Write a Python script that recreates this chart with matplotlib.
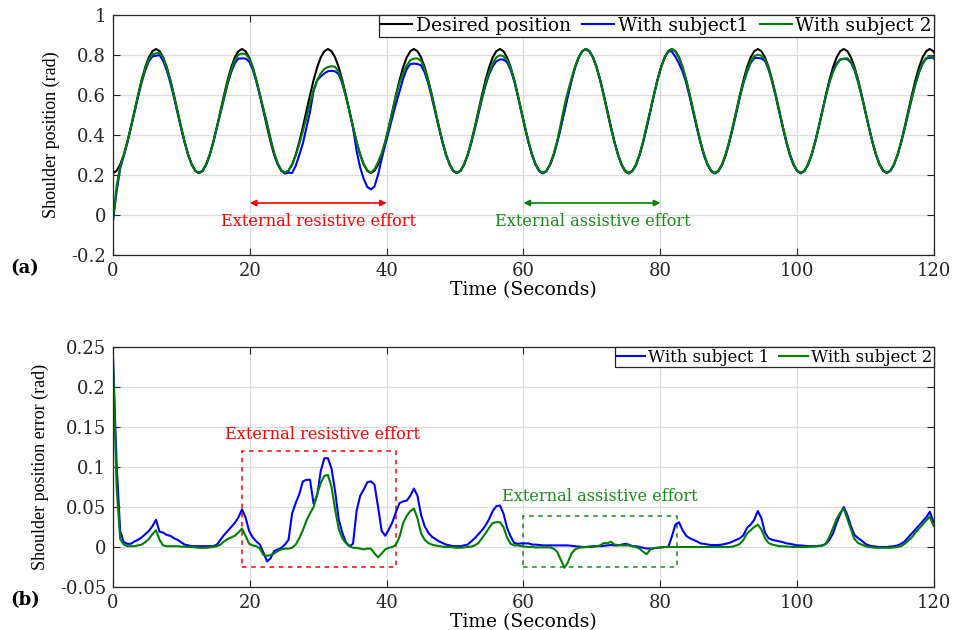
import numpy as np
import matplotlib
matplotlib.use("Agg")
import matplotlib.pyplot as plt
from matplotlib.patches import Rectangle

# Sampling interval of the recorded signals (s)
SAMPLE_DT = 0.5236

# Desired shoulder trajectory (rad)
desired_position = [
    0.210, 0.221, 0.252, 0.301, 0.365, 0.440, 0.520, 0.600, 0.675, 0.739, 0.788, 0.819,
    0.830, 0.819, 0.788, 0.739, 0.675, 0.600, 0.520, 0.440, 0.365, 0.301, 0.252, 0.221,
    0.210, 0.221, 0.252, 0.301, 0.365, 0.440, 0.520, 0.600, 0.675, 0.739, 0.788, 0.819,
    0.830, 0.819, 0.788, 0.739, 0.675, 0.600, 0.520, 0.440, 0.365, 0.301, 0.252, 0.221,
    0.210, 0.221, 0.252, 0.301, 0.365, 0.440, 0.520, 0.600, 0.675, 0.739, 0.788, 0.819,
    0.830, 0.819, 0.788, 0.739, 0.675, 0.600, 0.520, 0.440, 0.365, 0.301, 0.252, 0.221,
    0.210, 0.221, 0.252, 0.301, 0.365, 0.440, 0.520, 0.600, 0.675, 0.739, 0.788, 0.819,
    0.830, 0.819, 0.788, 0.739, 0.675, 0.600, 0.520, 0.440, 0.365, 0.301, 0.252, 0.221,
    0.210, 0.221, 0.252, 0.301, 0.365, 0.440, 0.520, 0.600, 0.675, 0.739, 0.788, 0.819,
    0.830, 0.819, 0.788, 0.739, 0.675, 0.600, 0.520, 0.440, 0.365, 0.301, 0.252, 0.221,
    0.210, 0.221, 0.252, 0.301, 0.365, 0.440, 0.520, 0.600, 0.675, 0.739, 0.788, 0.819,
    0.830, 0.819, 0.788, 0.739, 0.675, 0.600, 0.520, 0.440, 0.365, 0.301, 0.252, 0.221,
    0.210, 0.221, 0.252, 0.301, 0.365, 0.440, 0.520, 0.600, 0.675, 0.739, 0.788, 0.819,
    0.830, 0.819, 0.788, 0.739, 0.675, 0.600, 0.520, 0.440, 0.365, 0.301, 0.252, 0.221,
    0.210, 0.221, 0.252, 0.301, 0.365, 0.440, 0.520, 0.600, 0.675, 0.739, 0.788, 0.819,
    0.830, 0.819, 0.788, 0.739, 0.675, 0.600, 0.520, 0.440, 0.365, 0.301, 0.252, 0.221,
    0.210, 0.221, 0.252, 0.301, 0.365, 0.440, 0.520, 0.600, 0.675, 0.739, 0.788, 0.819,
    0.830, 0.819, 0.788, 0.739, 0.675, 0.600, 0.520, 0.440, 0.365, 0.301, 0.252, 0.221,
    0.210, 0.221, 0.252, 0.301, 0.365, 0.440, 0.520, 0.600, 0.675, 0.739, 0.788, 0.819,
    0.830, 0.819, 0.788,
]

# Tracking error, desired minus measured (rad)
error_subject1 = [
    0.237, 0.105, 0.020, 0.006, 0.004, 0.004, 0.007, 0.009, 0.012, 0.016, 0.020, 0.026,
    0.034, 0.019, 0.018, 0.015, 0.014, 0.011, 0.009, 0.006, 0.003, 0.002, 0.001, 0.001,
    0.001, 0.001, 0.001, 0.001, 0.001, 0.003, 0.009, 0.015, 0.020, 0.025, 0.030, 0.037,
    0.047, 0.037, 0.020, 0.012, 0.007, 0.003, -0.007, -0.018, -0.014, -0.005, -0.003, -0.001,
    0.003, 0.009, 0.042, 0.055, 0.066, 0.082, 0.084, 0.084, 0.054, 0.065, 0.095, 0.111,
    0.111, 0.098, 0.070, 0.035, 0.018, 0.006, 0.001, 0.004, 0.045, 0.064, 0.072, 0.081,
    0.082, 0.078, 0.050, 0.020, 0.014, 0.022, 0.031, 0.044, 0.055, 0.057, 0.058, 0.064,
    0.073, 0.064, 0.040, 0.026, 0.018, 0.013, 0.010, 0.007, 0.005, 0.003, 0.002, 0.001,
    0.001, 0.001, 0.002, 0.003, 0.007, 0.011, 0.016, 0.021, 0.027, 0.035, 0.045, 0.051,
    0.052, 0.042, 0.024, 0.013, 0.005, 0.004, 0.0045, 0.0045, 0.0045, 0.003, 0.003, 0.0025,
    0.002, 0.002, 0.002, 0.002, 0.002, 0.002, 0.002, 0.002, 0.0015, 0.001, 0.0005, 0.0,
    0.0, 0.0005, 0.001, 0.001, 0.001, 0.0015, 0.002, 0.0025, 0.002, 0.002, 0.003, 0.004,
    0.003, 0.001, 0.001, 0.0, -0.001, -0.002, -0.002, -0.0015, -0.001, -0.0005, 0.0, 0.0,
    0.013, 0.028, 0.031, 0.021, 0.014, 0.011, 0.009, 0.007, 0.0045, 0.004, 0.003, 0.0025,
    0.0025, 0.0025, 0.003, 0.004, 0.005, 0.007, 0.009, 0.011, 0.015, 0.024, 0.028, 0.034,
    0.045, 0.036, 0.018, 0.011, 0.009, 0.008, 0.007, 0.006, 0.0045, 0.004, 0.003, 0.002,
    0.002, 0.0015, 0.001, 0.001, 0.001, 0.0015, 0.002, 0.004, 0.009, 0.017, 0.030, 0.041,
    0.050, 0.040, 0.026, 0.015, 0.011, 0.008, 0.004, 0.002, 0.001, 0.0005, 0.0, 0.0,
    0.0, 0.0005, 0.001, 0.002, 0.004, 0.007, 0.012, 0.017, 0.022, 0.027, 0.032, 0.037,
    0.044, 0.032, 0.026,
]

error_subject2 = [
    0.237, 0.075, 0.010, 0.003, 0.001, 0.001, 0.001, 0.002, 0.003, 0.006, 0.010, 0.016,
    0.021, 0.009, 0.002, 0.001, 0.001, 0.001, 0.001, 0.0005, 0.0005, 0.0, 0.0, -0.0005,
    -0.001, -0.001, -0.001, -0.0005, 0.0, 0.001, 0.003, 0.007, 0.010, 0.012, 0.014, 0.018,
    0.023, 0.014, 0.004, 0.002, 0.001, -0.002, -0.010, -0.011, -0.010, -0.008, -0.005, -0.003,
    -0.002, -0.002, -0.001, 0.003, 0.011, 0.021, 0.033, 0.042, 0.050, 0.066, 0.080, 0.089,
    0.090, 0.075, 0.047, 0.023, 0.011, 0.005, 0.001, -0.001, -0.001, -0.002, -0.003, -0.002,
    -0.002, -0.008, -0.013, -0.008, -0.003, -0.001, 0.0, 0.003, 0.013, 0.030, 0.039, 0.045,
    0.048, 0.036, 0.017, 0.009, 0.005, 0.003, 0.002, 0.001, 0.0005, 0.0, 0.0, -0.0005,
    -0.001, -0.001, -0.0005, 0.0, 0.0005, 0.002, 0.005, 0.011, 0.017, 0.024, 0.030, 0.031,
    0.031, 0.025, 0.012, 0.004, 0.002, 0.002, 0.001, 0.0005, 0.0, 0.0, -0.0005, -0.0005,
    -0.0005, -0.0005, -0.0005, -0.002, -0.006, -0.016, -0.026, -0.019, -0.008, -0.003, -0.001, -0.0005,
    0.0, 0.0, 0.0, 0.001, 0.002, 0.005, 0.0045, 0.0065, 0.003, 0.0025, 0.002, 0.002,
    0.002, 0.001, 0.0, -0.002, -0.006, -0.009, -0.003, -0.0015, -0.001, -0.0005, 0.0, 0.0,
    0.0, 0.0, 0.0, 0.0, 0.0, 0.0, 0.0, 0.0, 0.0, 0.0, 0.0, 0.0,
    0.0, 0.0, 0.0, 0.0, 0.0, 0.0005, 0.002, 0.004, 0.009, 0.017, 0.021, 0.025,
    0.028, 0.022, 0.011, 0.005, 0.003, 0.002, 0.001, 0.001, 0.0005, 0.0005, 0.0, 0.0,
    0.0, 0.0, 0.0, 0.0005, 0.0005, 0.001, 0.0015, 0.004, 0.013, 0.024, 0.035, 0.043,
    0.048, 0.035, 0.022, 0.010, 0.005, 0.003, 0.001, 0.0, -0.0005, -0.001, -0.001, -0.001,
    -0.001, -0.001, -0.0005, 0.0, 0.001, 0.004, 0.008, 0.012, 0.018, 0.023, 0.028, 0.033,
    0.038, 0.027, 0.022,
]

x_ticks = [0, 20, 40, 60, 80, 100, 120]
pos_ticks = [-0.2, 0, 0.2, 0.4, 0.6, 0.8, 1]
pos_tick_labels = ["-0.2", "0", "0.2", "0.4", "0.6", "0.8", "1"]
err_ticks = [-0.05, 0, 0.05, 0.1, 0.15, 0.2, 0.25]
err_tick_labels = ["-0.05", "0", "0.05", "0.1", "0.15", "0.2", "0.25"]

desired = np.array(desired_position)
e1 = np.array(error_subject1)
e2 = np.array(error_subject2)
t = SAMPLE_DT * np.arange(len(desired))
pos1 = desired - e1
pos2 = desired - e2

SERIF = "DejaVu Serif"
NARROW = "Liberation Serif"
GREEN = (0.0, 0.5, 0.0)
TXT_GREEN = (0.1, 0.55, 0.1)

fig = plt.figure(figsize=(9.54, 6.3), dpi=100)
W, H = 954.0, 630.0
ax1 = fig.add_axes([113 / W, 1 - 255 / H, 821 / W, 240 / H])
ax2 = fig.add_axes([113 / W, 1 - 587 / H, 821 / W, 240 / H])


def style_axes(ax, yticks, ylabels):
    ax.set_xlim(0, 120)
    ax.set_xticks(x_ticks)
    ax.set_xticklabels([str(v) for v in x_ticks], fontfamily=SERIF, fontsize=13)
    ax.set_yticks(yticks)
    ax.set_yticklabels(ylabels, fontfamily=SERIF, fontsize=13)
    ax.tick_params(direction="in", top=True, right=True, length=5, width=0.8,
                   colors="#262626", pad=5)
    ax.grid(True, color="#dcdcdc", lw=0.9)
    ax.set_axisbelow(True)
    for s in ax.spines.values():
        s.set_color("#262626")
        s.set_linewidth(0.9)


# (a) shoulder position
ax1.plot(t, desired, color="black", lw=1.5, label="Desired position")
ax1.plot(t, pos1, color="blue", lw=1.5, label="With subject1")
ax1.plot(t, pos2, color=GREEN, lw=1.5, label="With subject 2")
ax1.set_ylim(-0.2, 1)
style_axes(ax1, pos_ticks, pos_tick_labels)
ax1.set_xlabel("Time (Seconds)", fontfamily=SERIF, fontsize=13.5, labelpad=1)
ax1.set_ylabel("Shoulder position (rad)", fontfamily=NARROW, fontsize=13, labelpad=8)
leg1 = ax1.legend(loc="upper right", ncol=3, fancybox=False, edgecolor="#262626",
                  framealpha=1, borderaxespad=0, handlelength=1.7, handletextpad=0.2,
                  columnspacing=0.6, borderpad=0.1,
                  prop={"family": SERIF, "size": 13.5})
leg1.get_frame().set_linewidth(0.9)

ax1.annotate("", xy=(20, 0.06), xytext=(40, 0.06),
             arrowprops=dict(arrowstyle="<|-|>", color="red", lw=1.2,
                             mutation_scale=9, shrinkA=0, shrinkB=0))
ax1.text(30, -0.035, "External resistive effort", color="red", ha="center",
         va="center", fontfamily=SERIF, fontsize=11.6)
ax1.annotate("", xy=(60, 0.06), xytext=(80, 0.06),
             arrowprops=dict(arrowstyle="<|-|>", color=GREEN, lw=1.2,
                             mutation_scale=9, shrinkA=0, shrinkB=0))
ax1.text(70.2, -0.035, "External assistive effort", color=TXT_GREEN, ha="center",
         va="center", fontfamily=SERIF, fontsize=11.6)

# (b) tracking error
ax2.plot(t, e1, color="blue", lw=1.5, label="With subject 1")
ax2.plot(t, e2, color=GREEN, lw=1.5, label="With subject 2")
ax2.set_ylim(-0.05, 0.25)
style_axes(ax2, err_ticks, err_tick_labels)
ax2.set_xlabel("Time (Seconds)", fontfamily=SERIF, fontsize=13.5, labelpad=1)
ax2.set_ylabel("Shoulder position error (rad)", fontfamily=NARROW, fontsize=13, labelpad=8)
leg2 = ax2.legend(loc="upper right", ncol=2, fancybox=False, edgecolor="#262626",
                  framealpha=1, borderaxespad=0, handlelength=1.7, handletextpad=0.2,
                  columnspacing=0.6, borderpad=0.1,
                  prop={"family": SERIF, "size": 12})
leg2.get_frame().set_linewidth(0.9)

ax2.add_patch(Rectangle((18.9, -0.0252), 41.3 - 18.9, 0.1202 + 0.0252, fill=False,
                        edgecolor="red", lw=1.1, ls=(0, (3, 3))))
ax2.text(30.6, 0.141, "External resistive effort", color="red", ha="center",
         va="center", fontfamily=SERIF, fontsize=11.6)
ax2.add_patch(Rectangle((60, -0.0246), 82.5 - 60, 0.0388 + 0.0246, fill=False,
                        edgecolor=TXT_GREEN, lw=1.1, ls=(0, (3, 3))))
ax2.text(71.1, 0.063, "External assistive effort", color=TXT_GREEN, ha="center",
         va="center", fontfamily=SERIF, fontsize=11.6)

fig.text(25 / W, 1 - 268 / H, "(a)", fontfamily=SERIF, fontweight="bold",
         fontsize=13, ha="center", va="center")
fig.text(25 / W, 1 - 600 / H, "(b)", fontfamily=SERIF, fontweight="bold",
         fontsize=13, ha="center", va="center")

fig.savefig("out.png", dpi=100, facecolor="white")
